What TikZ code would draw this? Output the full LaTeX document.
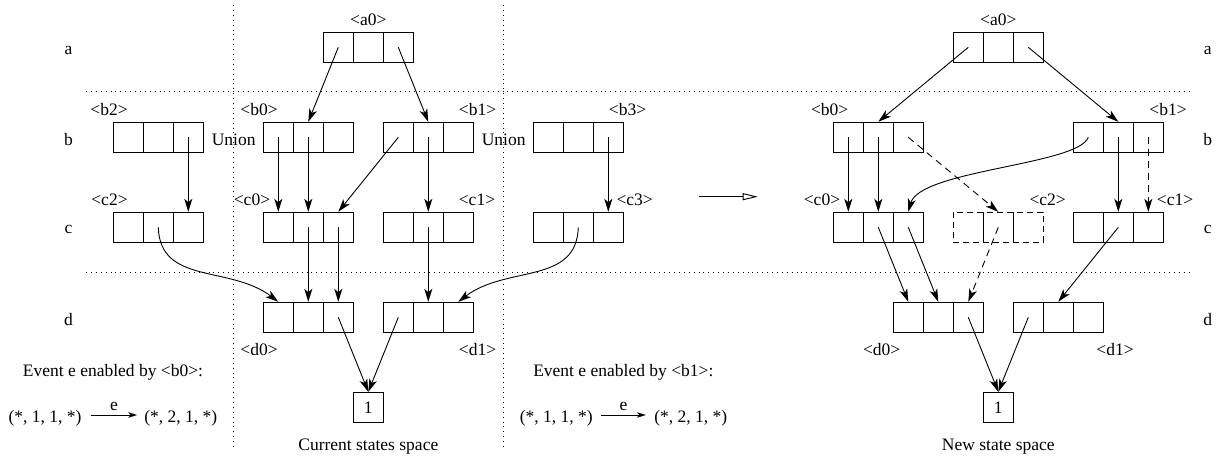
\documentclass[tikz,border=0pt]{standalone}
\usepackage{fontspec}
\setmainfont{Liberation Serif}
\usetikzlibrary{arrows.meta}
\begin{document}
\begin{tikzpicture}[x=1pt,y=-1pt,
  every node/.style={font=\fontsize{17.5}{20}\selectfont},
  cellbox/.style={draw,line width=1pt,minimum width=30pt,minimum height=30pt,inner sep=0pt},
  dcell/.style={dash pattern=on 6pt off 4pt},
  lbl/.style={inner sep=0pt},
  arr/.style={line width=0.9pt,-{Stealth[length=13pt,width=8pt,inset=3.5pt]}},
  darr/.style={arr,dash pattern=on 7pt off 5pt},
  sep/.style={line width=0.9pt,dash pattern=on 0.9pt off 4pt}]
\useasboundingbox (0,0) rectangle (1219,456);
\newcommand{\tripbox}[4][]{%
  \node[cellbox,#1] (#2-1) at (#3-30,#4) {};
  \node[cellbox,#1] (#2-2) at (#3,#4) {};
  \node[cellbox,#1] (#2-3) at (#3+30,#4) {};}
% separators
\draw[sep] (86,91.7) -- (1193,91.7);
\draw[sep] (86,272.3) -- (1193,272.3);
\draw[sep] (233.3,5) -- (233.3,450);
\draw[sep] (503.7,5) -- (503.7,450);
% row labels
\foreach \r/\yy in {a/50,b/139.5,c/229.5,d/319.5}{
  \node[lbl] (rowL\r) at (68.5,\yy) {\r};
  \node[lbl] (rowR\r) at (1207.7,\yy) {\r};}
% ---------- left part ----------
\tripbox{La0}{368.3}{47.3}
\tripbox{Lb2}{158.3}{137.3}
\tripbox{Lb0}{308.3}{137.3}
\tripbox{Lb1}{428.3}{137.3}
\tripbox{Lb3}{578.3}{137.3}
\tripbox{Lc2}{158.3}{227.3}
\tripbox{Lc0}{308.3}{227.3}
\tripbox{Lc1}{428.3}{227.3}
\tripbox{Lc3}{578.3}{227.3}
\tripbox{Ld0}{308.3}{317.3}
\tripbox{Ld1}{428.3}{317.3}
\node[cellbox] (Lone) at (368.3,407.3) {1};
\node[lbl] (tLa0) at (368.3,20) {<a0>};
\node[lbl] (tLb2) at (109,110) {<b2>};
\node[lbl] (tLb0) at (259,110) {<b0>};
\node[lbl] (tLb1) at (477.5,110) {<b1>};
\node[lbl] (tLb3) at (627.5,110) {<b3>};
\node[lbl] (tLc2) at (109.5,200) {<c2>};
\node[lbl] (tLc0) at (252,200) {<c0>};
\node[lbl] (tLc1) at (477,200) {<c1>};
\node[lbl] (tLc3) at (634.7,200) {<c3>};
\node[lbl] (tLd0) at (259,350) {<d0>};
\node[lbl] (tLd1) at (477.5,350) {<d1>};
\node[lbl] (un1) at (233.7,139.5) {Union};
\node[lbl] (un2) at (503.7,139.5) {Union};
\node[lbl] (capL) at (368.3,446.7) {Current states space};
\draw[arr] (La0-1.center) -- (Lb0-2.north);
\draw[arr] (La0-3.center) -- (Lb1-2.north);
\draw[arr] (Lb2-3.center) -- (Lc2-3.north);
\draw[arr] (Lb0-1.center) -- (Lc0-1.north);
\draw[arr] (Lb0-2.center) -- (Lc0-2.north);
\draw[arr] (Lb1-1.center) -- (Lc0-3.north);
\draw[arr] (Lb1-2.center) -- (Lc1-2.north);
\draw[arr] (Lb3-3.center) -- (Lc3-3.north);
\draw[arr] (Lc2-2.center) .. controls (160,285) and (230,265) .. (Ld0-1.north);
\draw[arr] (Lc0-2.center) -- (Ld0-2.north);
\draw[arr] (Lc0-3.center) -- (Ld0-3.north);
\draw[arr] (Lc1-2.center) -- (Ld1-2.north);
\draw[arr] (Lc3-2.center) .. controls (576.6,285) and (506.6,265) .. (Ld1-3.north);
\draw[arr] (Ld0-3.center) -- (Lone.north);
\draw[arr] (Ld1-1.center) -- (Lone.north);
% events
\node[lbl] (ev1) at (113,372) {Event e enabled by <b0>:};
\node[lbl] (f1a) at (45,418) {(*, 1, 1, *)};
\node[lbl] (f1b) at (180.8,418) {(*, 2, 1, *)};
\draw[line width=0.9pt,-{Stealth[length=9pt,width=5.5pt,inset=2.5pt]}]
  ([xshift=9pt,yshift=3pt]f1a.east) -- ([xshift=-7pt,yshift=3pt]f1b.west)
  node[midway,above=4pt,lbl] (e1) {e};
\node[lbl] (ev2) at (623.3,372) {Event e enabled by <b1>:};
\node[lbl] (f2a) at (556.2,418) {(*, 1, 1, *)};
\node[lbl] (f2b) at (690.8,418) {(*, 2, 1, *)};
\draw[line width=0.9pt,-{Stealth[length=9pt,width=5.5pt,inset=2.5pt]}]
  ([xshift=8.4pt,yshift=3pt]f2a.east) -- ([xshift=-8.3pt,yshift=3pt]f2b.west)
  node[midway,above=4pt,lbl] (e2) {e};
% transition arrow
\coordinate (tr1) at (699,196.7);
\coordinate (tr2) at (757.7,196.7);
\draw[line width=0.9pt,-{Triangle[open,length=15pt,width=7pt]}] (tr1) -- (tr2);
% ---------- right part ----------
\tripbox{Ra0}{998.3}{47.3}
\tripbox{Rb0}{878.3}{137.3}
\tripbox{Rb1}{1118.3}{137.3}
\tripbox{Rc0}{878.3}{227.3}
\tripbox[dcell]{Rc2}{998.3}{227.3}
\tripbox{Rc1}{1118.3}{227.3}
\tripbox{Rd0}{938.3}{317.3}
\tripbox{Rd1}{1058.3}{317.3}
\node[cellbox] (Rone) at (998.3,407.3) {1};
\node[lbl] (tRa0) at (998.3,20) {<a0>};
\node[lbl] (tRb0) at (829.7,110) {<b0>};
\node[lbl] (tRb1) at (1168,110) {<b1>};
\node[lbl] (tRc0) at (822,200) {<c0>};
\node[lbl] (tRc2) at (1047.7,200) {<c2>};
\node[lbl] (tRc1) at (1175,200) {<c1>};
\node[lbl] (tRd0) at (881.7,350) {<d0>};
\node[lbl] (tRd1) at (1115,350) {<d1>};
\node[lbl] (capR) at (998.3,446.7) {New state space};
\draw[arr] (Ra0-1.center) -- (Rb0-2.north);
\draw[arr] (Ra0-3.center) -- (Rb1-2.north);
\draw[arr] (Rb0-1.center) -- (Rc0-1.north);
\draw[arr] (Rb0-2.center) -- (Rc0-2.north);
\draw[darr] (Rb0-3.center) -- (Rc2-2.north);
\draw[arr] (Rb1-1.center) .. controls (1078,165) and (920,170) .. (Rc0-3.north);
\draw[arr] (Rb1-2.center) -- (Rc1-2.north);
\draw[darr] (Rb1-3.center) -- (Rc1-3.north);
\draw[arr] (Rc0-2.center) -- (Rd0-1.north);
\draw[arr] (Rc0-3.center) -- (Rd0-2.north);
\draw[darr] (Rc2-2.center) -- (Rd0-3.north);
\draw[arr] (Rc1-2.center) -- (Rd1-2.north);
\draw[arr] (Rd0-3.center) -- (Rone.north);
\draw[arr] (Rd1-1.center) -- (Rone.north);
\end{tikzpicture}
\end{document}
